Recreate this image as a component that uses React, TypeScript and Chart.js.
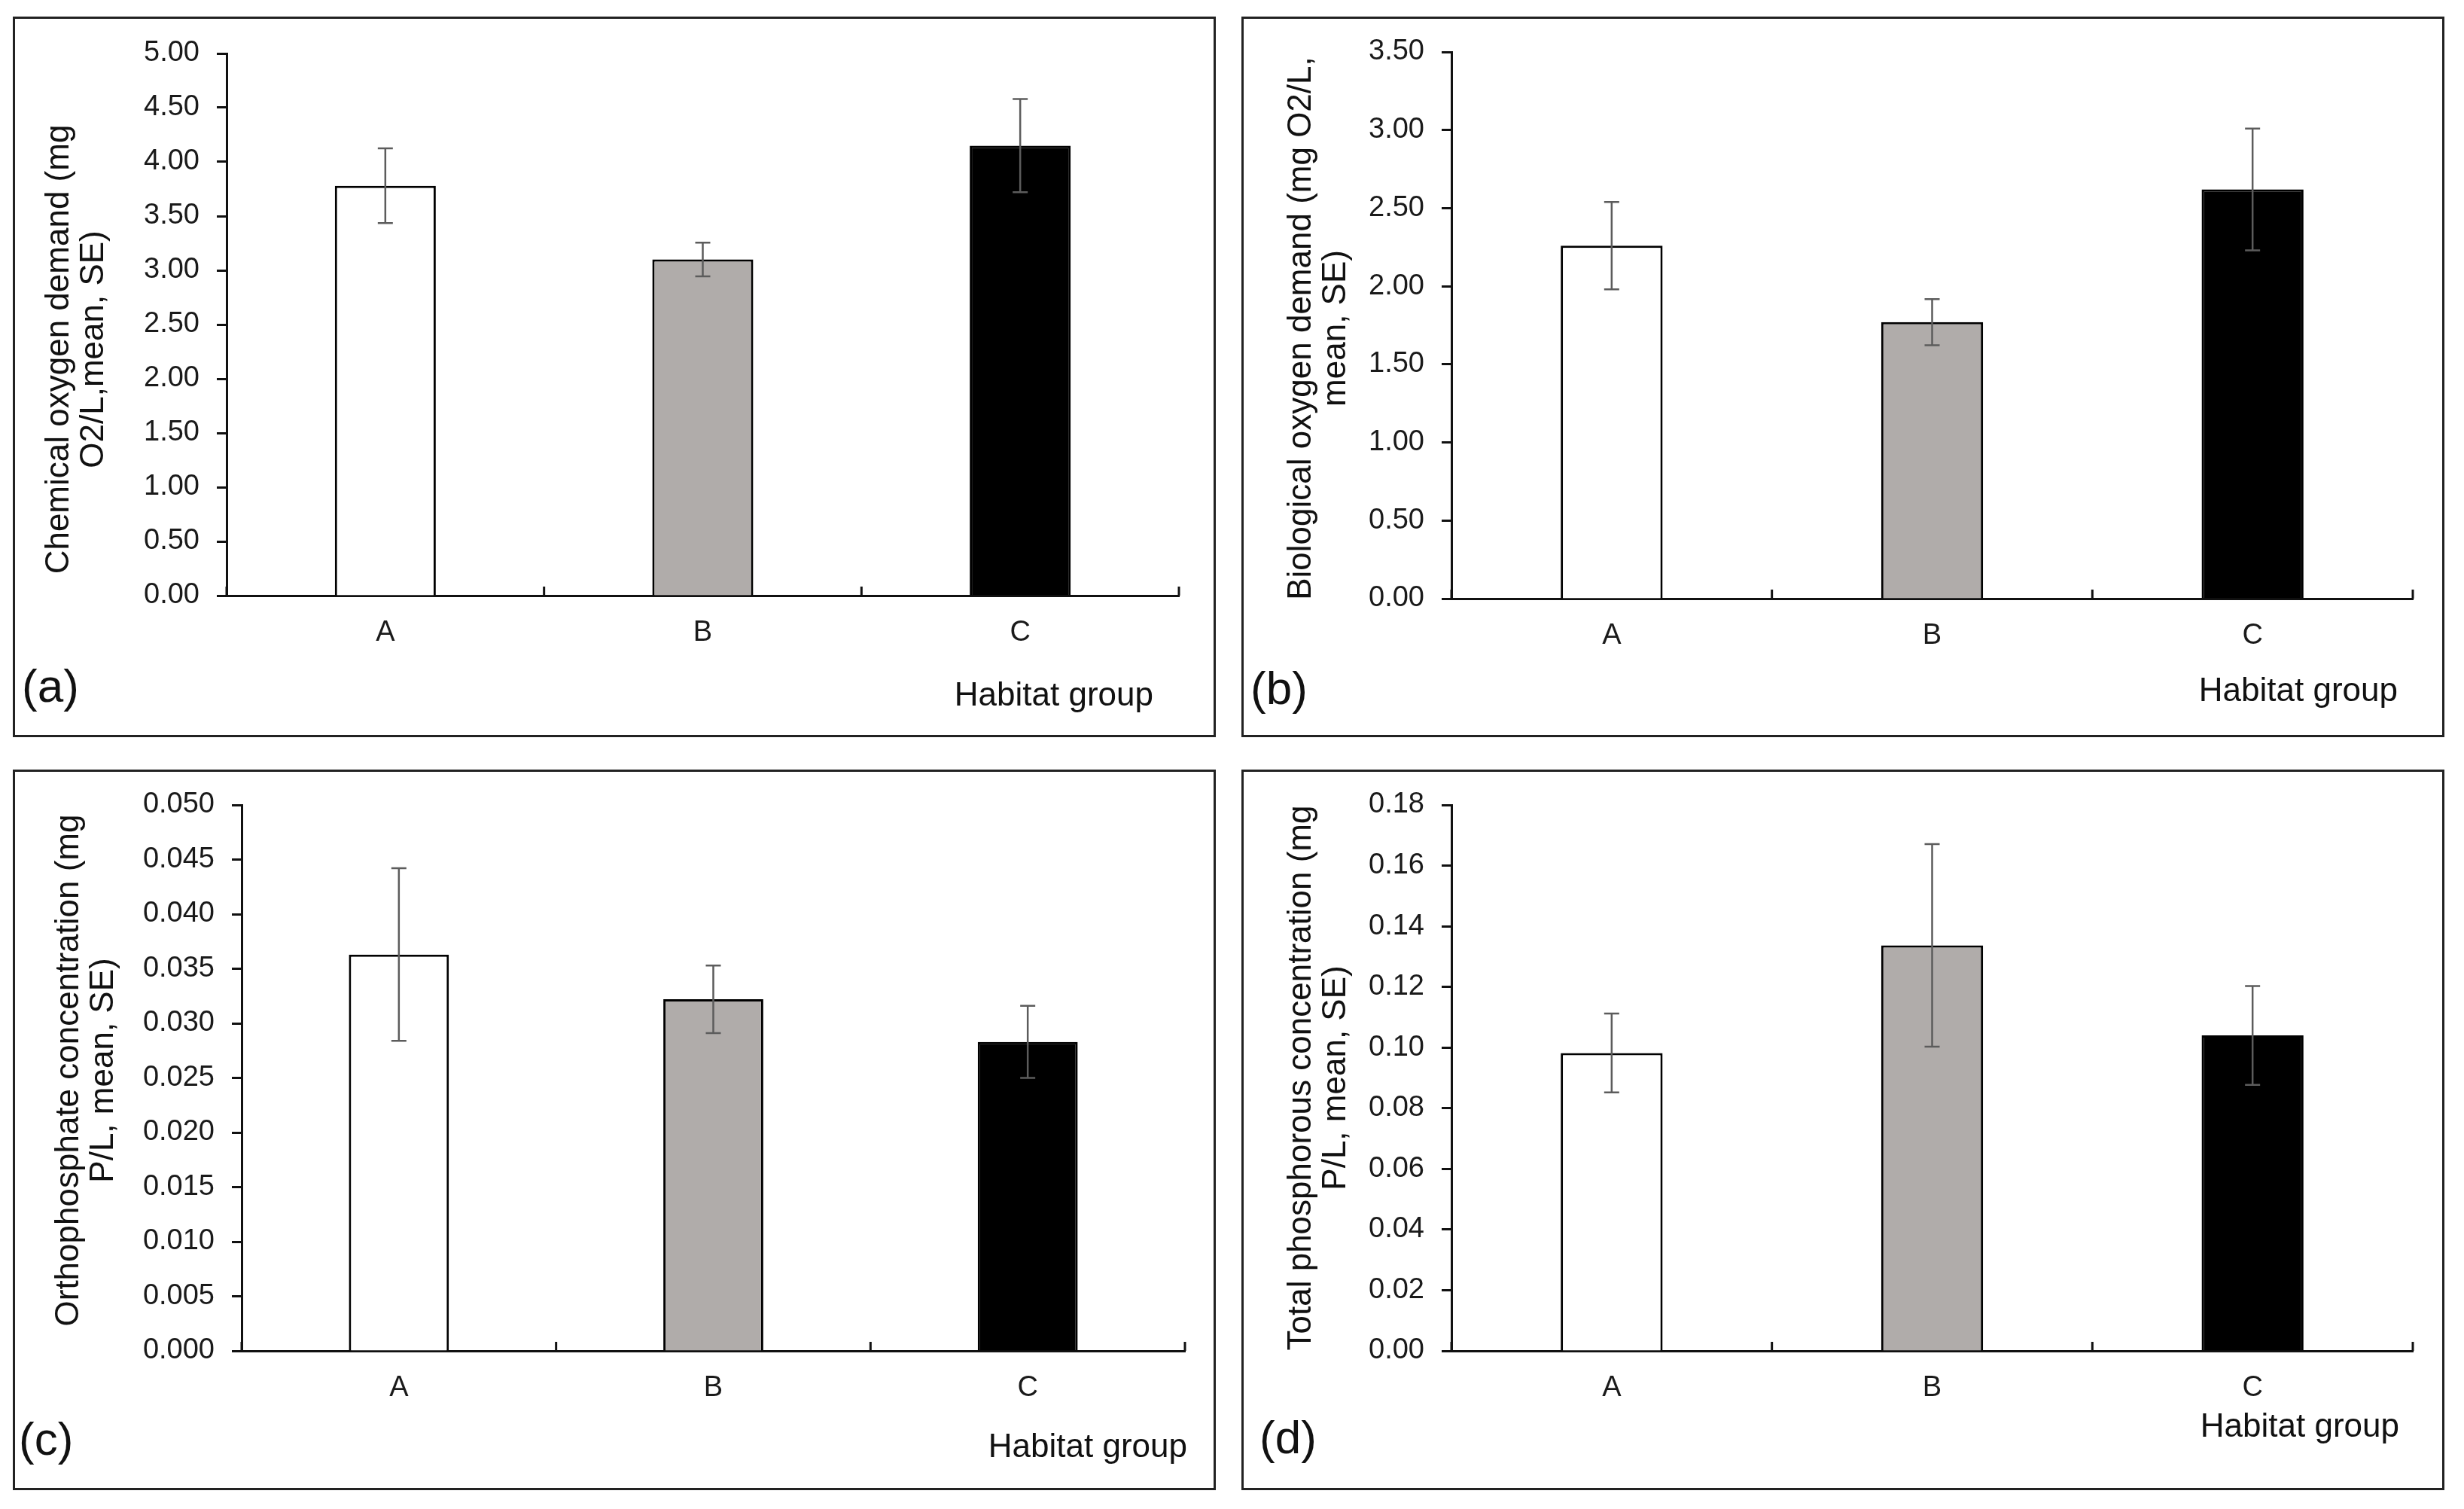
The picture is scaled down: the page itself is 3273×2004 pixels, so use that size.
import React, { useEffect, useRef } from 'react';
import { Chart, registerables } from 'chart.js';

Chart.register(...registerables);

// ---------- data ----------
const categories = ['A', 'B', 'C'];

const codMean = [3.78, 3.1, 4.15];
const codSE = [0.345, 0.155, 0.43];

const bodMean = [2.26, 1.77, 2.62];
const bodSE = [0.28, 0.148, 0.39];

const orthoMean = [0.0363, 0.0322, 0.0283];
const orthoSE = [0.0079, 0.0031, 0.0033];

const tpMean = [0.0982, 0.1337, 0.104];
const tpSE = [0.013, 0.0334, 0.0163];

const codTitle = ['Chemical oxygen demand (mg', 'O2/L,mean, SE)'];
const bodTitle = ['Biological oxygen demand (mg O2/L,', 'mean, SE)'];
const orthoTitle = ['Orthophosphate concentration (mg', 'P/L, mean, SE)'];
const tpTitle = ['Total phosphorous concentration (mg', 'P/L, mean, SE)'];

const panelLetters = ['(a)', '(b)', '(c)', '(d)'];
const xAxisTitle = 'Habitat group';

const yMaxes = [5, 3.5, 0.05, 0.18];
const ySteps = [0.5, 0.5, 0.005, 0.02];
const yDecimals = [2, 2, 3, 2];

// ---------- style ----------
const FONT = '"Liberation Sans", Arial, Helvetica, sans-serif';
const barColors = ['#ffffff', '#b0acaa', '#000000'];
const W = 1598;
const H = 957;
const FRAME = 3;

type Layout = {
  left: number;
  top: number;
  area: { l: number; t: number; r: number; b: number };
  titleX: number;
  titleDY: number;
  letterX: number;
  letterY: number;
  habX: number;
  habY: number;
};

const layouts: Layout[] = [
  { left: 17, top: 22, area: { l: 284, t: 49, r: 1549, b: 769 }, titleX: 62, titleDY: 33, letterX: 12, letterY: 893, habX: 1515, habY: 903 },
  { left: 1649, top: 22, area: { l: 279, t: 47, r: 1556, b: 773 }, titleX: 80, titleDY: 4, letterX: 12, letterY: 896, habX: 1536, habY: 897 },
  { left: 17, top: 1022, area: { l: 304, t: 47, r: 1557, b: 772 }, titleX: 75, titleDY: -10, letterX: 8, letterY: 893, habX: 1560, habY: 901 },
  { left: 1649, top: 1022, area: { l: 279, t: 47, r: 1556, b: 772 }, titleX: 80, titleDY: 0, letterX: 24, letterY: 891, habX: 1538, habY: 874 },
];

const panelData = [
  { mean: codMean, se: codSE, title: codTitle },
  { mean: bodMean, se: bodSE, title: bodTitle },
  { mean: orthoMean, se: orthoSE, title: orthoTitle },
  { mean: tpMean, se: tpSE, title: tpTitle },
];

function Panel({ idx }: { idx: number }) {
  const ref = useRef<HTMLCanvasElement | null>(null);
  const lay = layouts[idx];
  useEffect(() => {
    const canvas = ref.current;
    if (!canvas) return;
    const { mean, se, title } = panelData[idx];
    const area = lay.area;

    const decor = {
      id: 'decor' + idx,
      afterDatasetsDraw(chart: any) {
        const ctx = chart.ctx;
        const y = chart.scales.y;
        const meta = chart.getDatasetMeta(0);
        ctx.save();
        ctx.strokeStyle = '#5c5c5c';
        ctx.lineWidth = 2.5;
        meta.data.forEach((bar: any, i: number) => {
          const cx = bar.x;
          const yTop = y.getPixelForValue(mean[i] + se[i]);
          const yBot = y.getPixelForValue(mean[i] - se[i]);
          ctx.beginPath();
          ctx.moveTo(cx, yTop);
          ctx.lineTo(cx, yBot);
          ctx.moveTo(cx - 10, yTop);
          ctx.lineTo(cx + 10, yTop);
          ctx.moveTo(cx - 10, yBot);
          ctx.lineTo(cx + 10, yBot);
          ctx.stroke();
        });
        ctx.restore();
      },
      afterDraw(chart: any) {
        const ctx = chart.ctx;
        const xs = chart.scales.x;
        const ca = chart.chartArea;
        ctx.save();
        // upward category-boundary ticks
        ctx.strokeStyle = '#111111';
        ctx.lineWidth = 3;
        for (let i = 0; i <= categories.length; i++) {
          const px = xs.getPixelForValue(i - 0.5);
          ctx.beginPath();
          ctx.moveTo(px, ca.bottom);
          ctx.lineTo(px, ca.bottom - 12);
          ctx.stroke();
        }
        // y axis title
        ctx.fillStyle = '#111111';
        ctx.font = `44px ${FONT}`;
        ctx.textAlign = 'center';
        ctx.textBaseline = 'middle';
        const cy = (ca.top + ca.bottom) / 2 + lay.titleDY;
        title.forEach((line: string, k: number) => {
          ctx.save();
          ctx.translate(lay.titleX + k * 46, cy);
          ctx.rotate(-Math.PI / 2);
          ctx.fillText(line, 0, 0);
          ctx.restore();
        });
        // panel letter
        ctx.font = `62px ${FONT}`;
        ctx.textAlign = 'left';
        ctx.fillText(panelLetters[idx], lay.letterX, lay.letterY);
        // x axis title
        ctx.font = `44px ${FONT}`;
        ctx.textAlign = 'right';
        ctx.fillText(xAxisTitle, lay.habX, lay.habY);
        ctx.restore();
      },
    };

    const chart = new Chart(canvas, {
      type: 'bar',
      data: {
        labels: categories,
        datasets: [
          {
            data: mean,
            backgroundColor: barColors,
            borderColor: '#000000',
            borderWidth: 3,
            barPercentage: 0.318,
            categoryPercentage: 1,
          },
        ],
      },
      options: {
        animation: false,
        responsive: false,
        layout: { padding: { left: 0, top: area.t, right: W - area.r, bottom: 0 } },
        plugins: {
          legend: { display: false },
          tooltip: { enabled: false },
          title: { display: false },
        },
        scales: {
          x: {
            type: 'category',
            offset: true,
            grid: { display: false },
            border: { display: true, color: '#111111', width: 3 },
            ticks: { font: { family: FONT, size: 38 }, color: '#1a1a1a', padding: 19 },
            afterFit: (s: any) => {
              s.height = H - area.b;
            },
          },
          y: {
            min: 0,
            max: yMaxes[idx],
            ticks: {
              stepSize: ySteps[idx],
              font: { family: FONT, size: 38 },
              color: '#1a1a1a',
              padding: 23,
              callback: (v: any) => Number(v).toFixed(yDecimals[idx]),
            },
            grid: {
              drawOnChartArea: false,
              drawTicks: true,
              tickLength: 13,
              tickWidth: 3,
              tickColor: '#111111',
              color: '#111111',
            },
            border: { display: true, color: '#111111', width: 3 },
            afterFit: (s: any) => {
              s.width = area.l;
            },
          },
        },
      } as any,
      plugins: [decor as any],
    });
    return () => chart.destroy();
  }, [idx]);

  return (
    <div
      style={{
        position: 'absolute',
        left: lay.left,
        top: lay.top,
        width: W,
        height: H,
        boxSizing: 'border-box',
        border: `${FRAME}px solid #222222`,
        background: '#ffffff',
      }}
    >
      <canvas
        ref={ref}
        width={W}
        height={H}
        style={{ position: 'absolute', left: -FRAME, top: -FRAME, width: W, height: H }}
      />
    </div>
  );
}

export default function App() {
  return (
    <div
      style={{
        position: 'absolute',
        left: 0,
        top: 0,
        width: 3273,
        height: 2004,
        background: '#ffffff',
        overflow: 'hidden',
      }}
    >
      {[0, 1, 2, 3].map((i) => (
        <Panel key={i} idx={i} />
      ))}
    </div>
  );
}
